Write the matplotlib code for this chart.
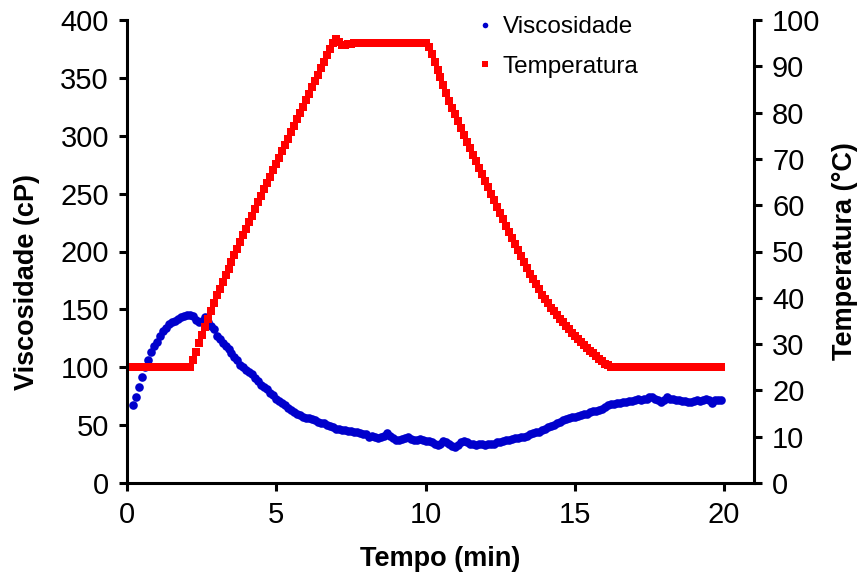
import numpy as np
import matplotlib
matplotlib.use("Agg")
import matplotlib.pyplot as plt

plt.rcParams['font.family'] = ['Liberation Sans', 'DejaVu Sans']

# Sampling clock of the viscometer run (min)
tempo = np.arange(2, 200) / 10.0

# Apparent viscosity (cP)
viscosidade = [
    67, 74, 83, 92, 100, 106, 113, 118,
    122, 127, 131, 134, 137, 139, 140, 142, 143, 144,
    145, 145, 144, 141, 139, 140, 143, 139, 136, 133,
    127, 124, 121, 118, 116, 112, 109, 106, 102, 100,
    98, 96, 94, 91, 88, 85, 83, 81, 78, 76,
    73, 71, 69, 67, 65, 63, 61, 60, 59, 57,
    56, 56, 55, 54, 53, 52, 52, 50, 49, 48,
    47, 47, 46, 46, 45, 45, 44, 44, 43, 42,
    42, 40, 41, 40, 39, 40, 41, 43, 41, 39,
    37, 37, 38, 39, 40, 38, 37, 37, 38, 37,
    36, 36, 35, 34, 33, 34, 36, 35, 34, 32,
    31, 33, 35, 36, 35, 34, 34, 33, 34, 34,
    33, 34, 34, 34, 35, 35, 36, 37, 37, 38,
    39, 39, 40, 40, 41, 42, 43, 44, 44, 46,
    47, 48, 49, 50, 52, 53, 54, 55, 56, 57,
    57, 58, 59, 60, 60, 61, 62, 62, 63, 64,
    66, 67, 68, 68, 69, 69, 70, 70, 71, 71,
    72, 73, 72, 73, 73, 74, 74, 73, 72, 70,
    72, 74, 73, 73, 72, 72, 71, 71, 70, 70,
    71, 72, 71, 72, 73, 72, 69, 72, 72, 72,
]

# Sample temperature (°C)
temperatura = [
    25, 25, 25, 25, 25, 25, 25, 25,
    25, 25, 25, 25, 25, 25, 25, 25, 25, 25,
    25, 25, 26.6, 28.4, 30.2, 32.0, 33.8, 35.5, 37.2, 38.9,
    40.6, 42.0, 43.5, 44.9, 46.3, 47.8, 49.2, 50.6, 52.0, 53.5,
    54.9, 56.3, 57.7, 59.2, 60.6, 62.0, 63.4, 64.8, 66.1, 67.5,
    68.9, 70.3, 71.7, 73.0, 74.4, 75.8, 77.2, 78.6, 79.9, 81.3,
    82.7, 84.1, 85.5, 86.8, 88.2, 89.6, 91.0, 92.4, 93.7, 95.1,
    96.0, 95.3, 94.6, 94.6, 94.8, 94.9, 95, 95, 95, 95,
    95, 95, 95, 95, 95, 95, 95, 95, 95, 95,
    95, 95, 95, 95, 95, 95, 95, 95, 95, 95,
    95.0, 94.2, 92.6, 91.0, 89.3, 87.6, 85.9, 84.2, 82.6, 81.1,
    79.6, 78.1, 76.6, 75.1, 73.7, 72.3, 70.9, 69.5, 68.1, 66.7,
    65.3, 63.9, 62.5, 61.1, 59.7, 58.3, 57.0, 55.6, 54.3, 53.0,
    51.7, 50.4, 49.1, 47.8, 46.5, 45.2, 44.0, 42.9, 41.8, 40.7,
    39.7, 38.8, 37.9, 37.1, 36.3, 35.5, 34.7, 33.9, 33.2, 32.5,
    31.8, 31.1, 30.4, 29.8, 29.2, 28.6, 28.0, 27.4, 26.8, 26.3,
    25.8, 25.4, 25.1, 25, 25, 25, 25, 25, 25, 25,
    25, 25, 25, 25, 25, 25, 25, 25, 25, 25,
    25, 25, 25, 25, 25, 25, 25, 25, 25, 25,
    25, 25, 25, 25, 25, 25, 25, 25, 25, 25,
]

x_ticks = [0, 5, 10, 15, 20]
visc_ticks = [0, 50, 100, 150, 200, 250, 300, 350, 400]
temp_ticks = [0, 10, 20, 30, 40, 50, 60, 70, 80, 90, 100]

fig = plt.figure(figsize=(8.62, 5.76), dpi=100)
ax = fig.add_axes([127 / 862, 1 - 483 / 576, (754 - 127) / 862, (483 - 20) / 576])
ax2 = ax.twinx()

blue = '#0000CC'
red = '#FF0000'

h1, = ax.plot(tempo, viscosidade, linestyle='none', marker='o', markersize=6.2,
              color=blue, markeredgewidth=0, label='Viscosidade')
h2, = ax2.plot(tempo, temperatura, linestyle='none', marker='s', markersize=6.4,
               color=red, markeredgewidth=0, label='Temperatura')

ax.set_xlim(0, 21)
ax.set_ylim(0, 400)
ax2.set_ylim(0, 100)
ax.set_xticks(x_ticks)
ax.set_yticks(visc_ticks)
ax2.set_yticks(temp_ticks)

lw = 2.2
for a in (ax, ax2):
    a.spines['top'].set_visible(False)
    for s in ('left', 'right', 'bottom'):
        a.spines[s].set_linewidth(lw)
        a.spines[s].set_color('black')
    a.tick_params(axis='both', direction='out', length=6, width=lw,
                  labelsize=21, colors='black', pad=7)
ax.spines['right'].set_visible(False)
ax2.spines['left'].set_visible(False)
ax2.spines['bottom'].set_visible(False)

ax.set_xlabel('Tempo (min)', fontsize=19.5, fontweight='bold', labelpad=12)
ax.set_ylabel('Viscosidade (cP)', fontsize=19.5, fontweight='bold')
ax.yaxis.set_label_coords(-0.138, 0.435)
ax2.set_ylabel('Temperatura (°C)', fontsize=19.5, fontweight='bold', labelpad=8)

leg = ax2.legend(handles=[h1, h2], loc='upper left', bbox_to_anchor=(466 / 862, 1 - 3 / 576),
                 bbox_transform=fig.transFigure, frameon=False, fontsize=17.5,
                 handlelength=0.5, handletextpad=0.45, markerscale=0.65,
                 labelspacing=0.72, borderaxespad=0.15)

fig.savefig('out.png', dpi=100)
